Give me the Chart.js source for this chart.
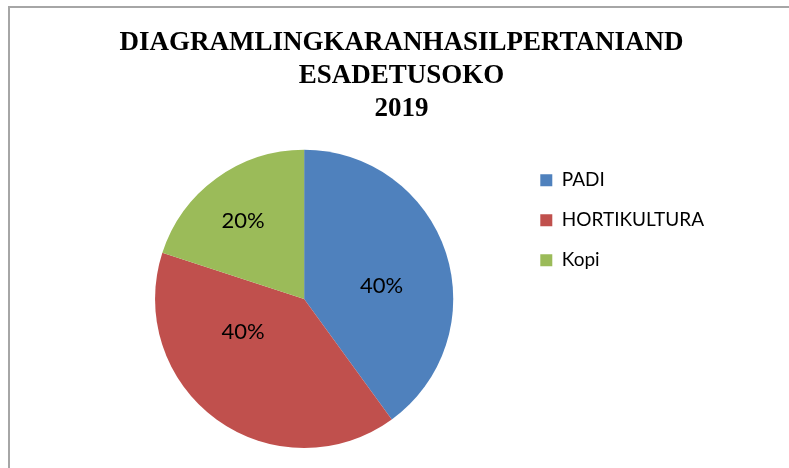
<!DOCTYPE html>
<html>
<head>
<meta charset="utf-8">
<script src="https://cdn.jsdelivr.net/npm/chart.js@4.4.1/dist/chart.umd.min.js"></script>
<style>
  html, body { margin: 0; padding: 0; background: #fff; }
  #frame { position: absolute; left: 8px; top: 6px; width: 800px; height: 480px; border: 2px solid #a6a6a6; box-sizing: border-box; }
  #pie { position: absolute; left: 0; top: 0; }
</style>
</head>
<body>
<div id="frame"></div>
<canvas id="pie" width="789" height="468"></canvas>
<script>
const titleLines = ["DIAGRAMLINGKARANHASILPERTANIAND", "ESADETUSOKO", "2019"];
const cropLabels = ["PADI", "HORTIKULTURA", "Kopi"];
const cropShare = [40, 40, 20];
const sliceColors = ["#4f81bd", "#c0504d", "#9bbb59"];

// percent labels, placed like Excel's "best fit" (fractions of the radius from the centre)
const percentLabels = {
  id: "percentLabels",
  afterDatasetsDraw(chart, args, opts) {
    const ctx = chart.ctx;
    const meta = chart.getDatasetMeta(0);
    const total = cropShare.reduce((a, b) => a + b, 0);
    ctx.save();
    ctx.font = opts.font;
    ctx.fillStyle = "#000";
    ctx.textAlign = "center";
    ctx.textBaseline = "middle";
    meta.data.forEach((arc, i) => {
      const spot = opts.spots[i];
      const x = arc.x + spot[0] * arc.outerRadius;
      const y = arc.y + spot[1] * arc.outerRadius;
      ctx.fillText(Math.round(cropShare[i] / total * 100) + "%", x, y);
    });
    ctx.restore();
  }
};

function drawChart() {
  new Chart(document.getElementById("pie"), {
    type: "pie",
    data: {
      labels: cropLabels,
      datasets: [{
        data: cropShare,
        backgroundColor: sliceColors,
        borderWidth: 0,
        hoverOffset: 0
      }]
    },
    options: {
      responsive: false,
      animation: false,
      events: [],
      layout: { padding: { left: 89, right: 75, top: 0, bottom: 20 } },
      plugins: {
        title: {
          display: true,
          text: titleLines,
          color: "#000",
          font: { family: "'Liberation Serif', 'Times New Roman', serif", size: 27, weight: "bold", lineHeight: 1.22 },
          padding: { top: 27, bottom: 24 }
        },
        legend: {
          position: "right",
          align: "start",
          fullSize: false,
          labels: {
            boxWidth: 12,
            boxHeight: 12,
            padding: 21,
            color: "#000",
            font: { family: "Lato, sans-serif", size: 19 }
          }
        },
        tooltip: { enabled: false },
        percentLabels: {
          font: "22px Lato, sans-serif",
          spots: [[0.52, -0.09], [-0.41, 0.22], [-0.41, -0.52]]
        }
      }
    },
    plugins: [percentLabels]
  });
}

Promise.all([
  document.fonts.load("19px Lato"),
  document.fonts.load("22px Lato"),
  document.fonts.load("bold 27px 'Liberation Serif'")
]).then(drawChart, drawChart);
</script>
</body>
</html>
